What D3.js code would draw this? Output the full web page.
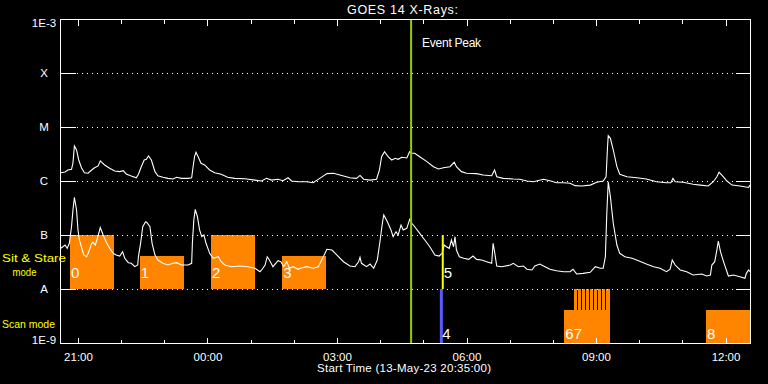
<!DOCTYPE html>
<html><head><meta charset="utf-8">
<script src="https://cdn.jsdelivr.net/npm/d3@7"></script>
<style>html,body{margin:0;padding:0;background:#000;}svg{display:block;}</style>
</head><body><svg id="c" width="768" height="384"></svg>
<script>
// ---------- data ----------
const START = "2023-05-13T20:35:00Z";
const DURATION_MIN = 960;
const titleText = "GOES 14 X-Rays:";
const xAxisTitle = "Start Time (13-May-23 20:35:00)";
const levelValues = [1e-3, 1e-4, 1e-5, 1e-6, 1e-7, 1e-8, 1e-9];
const levelLabels = ["1E-3", "X", "M", "C", "B", "A", "1E-9"];

// long channel (upper curve): minutes after start, flux W/m^2
const longMin = [1,7,11,16,18,20,23,26,30,34,39,44,48,53,56,62,69,76,83,88,92,99,106,109,113,117,120,123,127,132,136,143,150,157,162,169,178,183,185,187,189,192,196,201,208,215,224,233,243,257,271,280,287,294,303,310,317,322,331,343,352,361,371,380,389,403,412,417,422,431,440,444,447,451,456,461,466,470,475,482,486,489,493,500,510,519,526,533,542,548,551,558,565,579,588,600,604,607,616,630,639,649,658,672,681,690,700,709,716,725,737,746,755,759,761,762,765,769,774,778,788,802,815,829,843,849,852,855,866,880,890,901,908,913,916,920,927,934,945,957,959];
const longFlux = [1.42e-6,1.47e-6,1.60e-6,1.65e-6,2.15e-6,4.45e-6,3.75e-6,2.45e-6,1.74e-6,1.42e-6,
1.39e-6,1.60e-6,1.76e-6,1.90e-6,2.35e-6,1.98e-6,1.72e-6,1.53e-6,1.49e-6,1.55e-6,
1.35e-6,1.24e-6,1.15e-6,1.33e-6,1.84e-6,2.45e-6,2.52e-6,2.90e-6,2.45e-6,1.49e-6,
1.25e-6,1.17e-6,1.12e-6,1.09e-6,1.17e-6,1.12e-6,1.12e-6,1.15e-6,1.84e-6,2.82e-6,
3.40e-6,2.82e-6,2.13e-6,1.98e-6,1.60e-6,1.42e-6,1.33e-6,1.17e-6,1.12e-6,1.10e-6,
1.04e-6,1.00e-6,1.12e-6,1.04e-6,1.08e-6,1.01e-6,1.15e-6,1.00e-6,0.97e-6,0.97e-6,
0.93e-6,1.12e-6,1.37e-6,1.39e-6,1.29e-6,1.15e-6,1.12e-6,1.27e-6,1.08e-6,1.04e-6,
1.08e-6,1.60e-6,2.82e-6,3.49e-6,2.82e-6,2.45e-6,2.63e-6,2.52e-6,2.75e-6,2.67e-6,
3.49e-6,3.26e-6,3.26e-6,2.82e-6,2.28e-6,1.84e-6,1.67e-6,1.76e-6,1.84e-6,2.22e-6,
1.84e-6,1.49e-6,1.39e-6,1.37e-6,1.29e-6,1.25e-6,1.60e-6,1.20e-6,1.12e-6,1.09e-6,
1.08e-6,1.00e-6,0.97e-6,1.08e-6,1.01e-6,0.93e-6,0.93e-6,0.91e-6,0.82e-6,0.81e-6,
0.84e-6,0.95e-6,1.00e-6,1.20e-6,4.32e-6,6.90e-6,6.17e-6,3.75e-6,1.84e-6,1.33e-6,
1.20e-6,1.15e-6,1.09e-6,0.97e-6,0.93e-6,0.93e-6,1.12e-6,0.97e-6,0.95e-6,0.87e-6,
0.84e-6,0.81e-6,0.97e-6,1.20e-6,1.45e-6,1.29e-6,1.00e-6,0.84e-6,0.81e-6,0.76e-6,
0.84e-6];

// short channel (lower curve)
const shortMin = [1,4,7,10,13,16,18,20,23,25,27,31,33,37,40,44,46,49,52,56,60,64,69,74,78,83,87,90,95,99,104,108,109,112,115,119,121,125,128,132,136,143,150,157,162,169,178,183,184,186,188,191,194,197,200,203,208,213,220,224,229,238,250,261,271,278,281,285,288,291,296,303,307,311,315,319,324,331,334,343,352,359,366,371,378,385,394,403,410,415,417,419,426,431,436,441,445,448,450,455,460,463,467,470,474,477,482,486,489,493,500,507,514,521,527,531,534,537,541,544,547,549,551,555,561,568,574,579,586,593,600,602,604,607,614,626,630,637,644,649,656,660,667,674,681,690,700,709,713,718,727,737,744,751,755,758,760,762,765,769,774,778,785,795,804,815,825,834,843,848,851,855,862,871,880,892,899,904,906,910,913,915,918,923,929,936,945,952,954,957,959];
const shortFlux = [0.567e-7,0.607e-7,0.653e-7,0.567e-7,0.702e-7,1.42e-7,2.90e-7,4.99e-7,2.90e-7,1.24e-7,
0.808e-7,0.527e-7,0.426e-7,0.396e-7,0.49e-7,0.702e-7,0.732e-7,0.653e-7,0.869e-7,1.37e-7,
1.0e-7,0.751e-7,0.567e-7,0.458e-7,0.426e-7,0.408e-7,0.49e-7,0.37e-7,0.307e-7,0.299e-7,
0.259e-7,0.278e-7,0.396e-7,0.702e-7,1.42e-7,1.76e-7,1.69e-7,1.42e-7,0.702e-7,0.426e-7,
0.344e-7,0.299e-7,0.278e-7,0.299e-7,0.307e-7,0.278e-7,0.278e-7,0.299e-7,0.702e-7,1.90e-7,
2.99e-7,2.18e-7,1.24e-7,0.93e-7,1.0e-7,0.702e-7,0.458e-7,0.37e-7,0.396e-7,0.32e-7,
0.278e-7,0.259e-7,0.267e-7,0.259e-7,0.242e-7,0.209e-7,0.232e-7,0.278e-7,0.396e-7,0.344e-7,
0.259e-7,0.334e-7,0.32e-7,0.259e-7,0.32e-7,0.242e-7,0.259e-7,0.232e-7,0.242e-7,0.259e-7,
0.242e-7,0.259e-7,0.396e-7,0.543e-7,0.527e-7,0.426e-7,0.32e-7,0.267e-7,0.259e-7,0.32e-7,
0.386e-7,0.299e-7,0.259e-7,0.29e-7,0.242e-7,0.344e-7,0.808e-7,1.65e-7,2.35e-7,1.76e-7,
1.24e-7,0.93e-7,1.15e-7,1.0e-7,1.53e-7,1.24e-7,1.33e-7,1.95e-7,1.65e-7,1.42e-7,
1.07e-7,0.808e-7,0.607e-7,0.426e-7,0.408e-7,0.458e-7,0.653e-7,0.607e-7,0.567e-7,0.808e-7,
0.607e-7,0.93e-7,0.527e-7,0.396e-7,0.37e-7,0.354e-7,0.408e-7,0.354e-7,0.344e-7,0.32e-7,
0.299e-7,0.702e-7,0.49e-7,0.267e-7,0.259e-7,0.278e-7,0.299e-7,0.259e-7,0.267e-7,0.232e-7,
0.225e-7,0.267e-7,0.29e-7,0.259e-7,0.232e-7,0.218e-7,0.209e-7,0.209e-7,0.232e-7,0.19e-7,
0.195e-7,0.204e-7,0.259e-7,0.242e-7,0.242e-7,0.396e-7,2.52e-7,9.7e-7,5.12e-7,1.65e-7,
0.653e-7,0.458e-7,0.396e-7,0.37e-7,0.334e-7,0.29e-7,0.259e-7,0.242e-7,0.209e-7,0.232e-7,
0.344e-7,0.278e-7,0.225e-7,0.209e-7,0.182e-7,0.19e-7,0.174e-7,0.182e-7,0.278e-7,0.32e-7,
0.527e-7,0.774e-7,0.49e-7,0.299e-7,0.174e-7,0.182e-7,0.169e-7,0.158e-7,0.195e-7,0.225e-7,
0.209e-7];

// observation events
const sitStareIds = ["0", "1", "2", "3"];
const sitStareStart = [14, 111, 210, 309];
const sitStareEnd = [75, 172, 271, 370];
const sitStareTop = [1e-7, 4.07e-8, 1e-7, 4.07e-8];
const scanIds = ["67", "8"];
const scanStart = [701, 898];
const scanEnd = [764, 960];
const scanTop = [4.08e-9, 4.08e-9];
const stripeStart = [714.4, 720.0, 725.5, 731.1, 736.6, 742.2, 747.8, 753.3, 758.9];
const stripeEnd = [718.6, 724.1, 729.7, 735.3, 740.8, 746.4, 751.9, 757.5, 764.4];
const eventPeakMin = 488;
const eventPeakLabel = "Event Peak";
const lineEventIds = ["5", "4"];
const lineEventMin = [532, 530];
const lineEventHigh = [1e-7, 1e-8];
const lineEventLow = [1e-8, 1e-9];
const modeLabels = ["Sit & Stare", "mode", "Scan mode"];

// ---------- drawing ----------
const svg = d3.select("#c");
const FONT = "'Liberation Sans', Arial, sans-serif";
const ORANGE = "#ff8400";
const L = 60, R = 750.7, T = 19, B = 343;
const t0 = new Date(START);
const tAt = m => new Date(t0.getTime() + m * 60000);
const x = d3.scaleUtc().domain([t0, tAt(DURATION_MIN)]).range([L, R]);
const y = d3.scaleLog().domain([1e-9, 1e-3]).range([B, T]);

svg.append("rect").attr("width", 768).attr("height", 384).attr("fill", "#000");

// sit & stare boxes
const ss = sitStareIds.map((id, i) => ({id, s: sitStareStart[i], e: sitStareEnd[i], top: sitStareTop[i]}));
svg.append("g").selectAll("rect").data(ss).join("rect")
  .attr("x", d => x(tAt(d.s))).attr("width", d => x(tAt(d.e)) - x(tAt(d.s)))
  .attr("y", d => y(d.top)).attr("height", d => y(1e-8) - y(d.top))
  .attr("fill", ORANGE).attr("shape-rendering", "crispEdges");

// scan boxes
const sc = scanIds.map((id, i) => ({id, s: scanStart[i], e: scanEnd[i], top: scanTop[i]}));
svg.append("g").selectAll("rect").data(sc).join("rect")
  .attr("x", d => x(tAt(d.s))).attr("width", d => x(tAt(d.e)) - x(tAt(d.s)))
  .attr("y", d => y(d.top)).attr("height", d => y(1e-9) - y(d.top))
  .attr("fill", ORANGE).attr("shape-rendering", "crispEdges");
const st = stripeStart.map((s, i) => ({s, e: stripeEnd[i]}));
svg.append("g").selectAll("rect").data(st).join("rect")
  .attr("x", d => x(tAt(d.s))).attr("width", d => x(tAt(d.e)) - x(tAt(d.s)))
  .attr("y", y(1e-8)).attr("height", y(scanTop[0]) - y(1e-8))
  .attr("fill", ORANGE).attr("shape-rendering", "crispEdges");

// box labels
svg.append("g").selectAll("text").data(ss).join("text")
  .attr("x", d => x(tAt(d.s)) + 1).attr("y", y(1e-8) - 11)
  .attr("fill", "#fff").attr("font-family", FONT).attr("font-size", 15).text(d => d.id);
svg.append("g").selectAll("text").data(sc).join("text")
  .attr("x", d => x(tAt(d.s)) + 1).attr("y", y(1e-9) - 4)
  .attr("fill", "#fff").attr("font-family", FONT).attr("font-size", 15).text(d => d.id);

// dotted grid lines
svg.append("g").selectAll("line").data(levelValues.slice(1, 6)).join("line")
  .attr("x1", 77).attr("x2", 736).attr("y1", d => Math.round(y(d)) + 0.5).attr("y2", d => Math.round(y(d)) + 0.5)
  .attr("stroke", "#fff").attr("stroke-width", 1).attr("stroke-dasharray", "1,4");

// frame
svg.append("rect").attr("x", L + 0.5).attr("y", T + 0.5).attr("width", 690).attr("height", B - T)
  .attr("fill", "none").attr("stroke", "#fff").attr("shape-rendering", "crispEdges");

function styleAxis(g) {
  g.select(".domain").remove();
  g.selectAll("line").attr("stroke", "#fff").attr("shape-rendering", "crispEdges");
  g.selectAll("text").attr("fill", "#fff").attr("font-family", FONT).attr("font-size", 11.5);
}
// x axes
svg.append("g").attr("transform", `translate(0,${B + 0.5})`)
  .call(d3.axisBottom(x).ticks(d3.utcHour.every(1)).tickSize(-4).tickFormat("")).call(styleAxis);
svg.append("g").attr("transform", `translate(0,${B + 0.5})`)
  .call(d3.axisBottom(x).ticks(d3.utcHour.every(3)).tickSize(-6).tickPadding(9).tickFormat(d3.utcFormat("%H:%M"))).call(styleAxis);
svg.append("g").attr("transform", `translate(0,${T + 0.5})`)
  .call(d3.axisTop(x).ticks(d3.utcHour.every(1)).tickSize(-4).tickFormat("")).call(styleAxis);
svg.append("g").attr("transform", `translate(0,${T + 0.5})`)
  .call(d3.axisTop(x).ticks(d3.utcHour.every(3)).tickSize(-6).tickFormat("")).call(styleAxis);
// y axes ticks
svg.append("g").attr("transform", `translate(${L + 0.5},0)`)
  .call(d3.axisLeft(y).tickValues(levelValues.slice(1, 6)).tickSize(-15).tickFormat("")).call(styleAxis);
svg.append("g").attr("transform", `translate(${L + 690.5},0)`)
  .call(d3.axisRight(y).tickValues(levelValues.slice(1, 6)).tickSize(-15).tickFormat("")).call(styleAxis);

// y labels
svg.append("g").selectAll("text").data(levelValues).join("text")
  .attr("x", 44).attr("text-anchor", "middle")
  .attr("y", d => Math.max(27, Math.min(344, y(d) + 4)))
  .attr("fill", "#fff").attr("font-family", FONT).attr("font-size", 11.5)
  .text((d, i) => levelLabels[i]);

// curves
const line = d3.line().x(d => x(tAt(d[0]))).y(d => y(d[1]));
svg.append("path").datum(longMin.map((m, i) => [m, longFlux[i]]))
  .attr("d", line).attr("fill", "none").attr("stroke", "#fff").attr("stroke-width", 1.1);
svg.append("path").datum(shortMin.map((m, i) => [m, shortFlux[i]]))
  .attr("d", line).attr("fill", "none").attr("stroke", "#fff").attr("stroke-width", 1.1);

// event peak line
svg.append("line").attr("x1", x(tAt(eventPeakMin))).attr("x2", x(tAt(eventPeakMin)))
  .attr("y1", T + 1).attr("y2", B).attr("stroke", "#99cc00").attr("stroke-width", 2);
svg.append("text").attr("x", x(tAt(eventPeakMin)) + 11).attr("y", 47)
  .attr("fill", "#fff").attr("font-family", FONT).attr("font-size", 12)
  .attr("textLength", 59).text(eventPeakLabel);

// line events (sit & stare 5, scan 4)
const le = lineEventIds.map((id, i) => ({id, m: lineEventMin[i], hi: lineEventHigh[i], lo: lineEventLow[i]}));
svg.append("g").selectAll("line").data(le).join("line")
  .attr("x1", d => x(tAt(d.m))).attr("x2", d => x(tAt(d.m)))
  .attr("y1", d => y(d.hi)).attr("y2", d => y(d.lo))
  .attr("stroke", (d, i) => i === 0 ? "#ffff00" : "#5a5aff").attr("stroke-width", (d, i) => i === 0 ? 2 : 3);
svg.append("g").selectAll("text").data(le).join("text")
  .attr("x", d => x(tAt(d.m)) + 1)
  .attr("y", (d, i) => i === 0 ? y(1e-8) - 11 : y(1e-9) - 4)
  .attr("fill", "#fff").attr("font-family", FONT).attr("font-size", 15).text(d => d.id);

// titles
svg.append("text").attr("x", 402.5).attr("y", 14).attr("text-anchor", "middle")
  .attr("fill", "#fff").attr("font-family", FONT).attr("font-size", 12.5)
  .attr("textLength", 111).text(titleText);
svg.append("text").attr("x", 404).attr("y", 372).attr("text-anchor", "middle")
  .attr("fill", "#fff").attr("font-family", FONT).attr("font-size", 11.5)
  .attr("textLength", 174).text(xAxisTitle);

// mode labels
const modeX = [2, 12.5, 2], modeY = [262, 276, 328], modeW = [64, 24, 53];
svg.append("g").selectAll("text").data(modeLabels).join("text")
  .attr("x", (d, i) => modeX[i]).attr("y", (d, i) => modeY[i])
  .attr("fill", "#ffff00").attr("font-family", FONT).attr("font-size", 11.5)
  .attr("textLength", (d, i) => modeW[i]).attr("lengthAdjust", "spacingAndGlyphs")
  .text(d => d);
</script></body></html>
